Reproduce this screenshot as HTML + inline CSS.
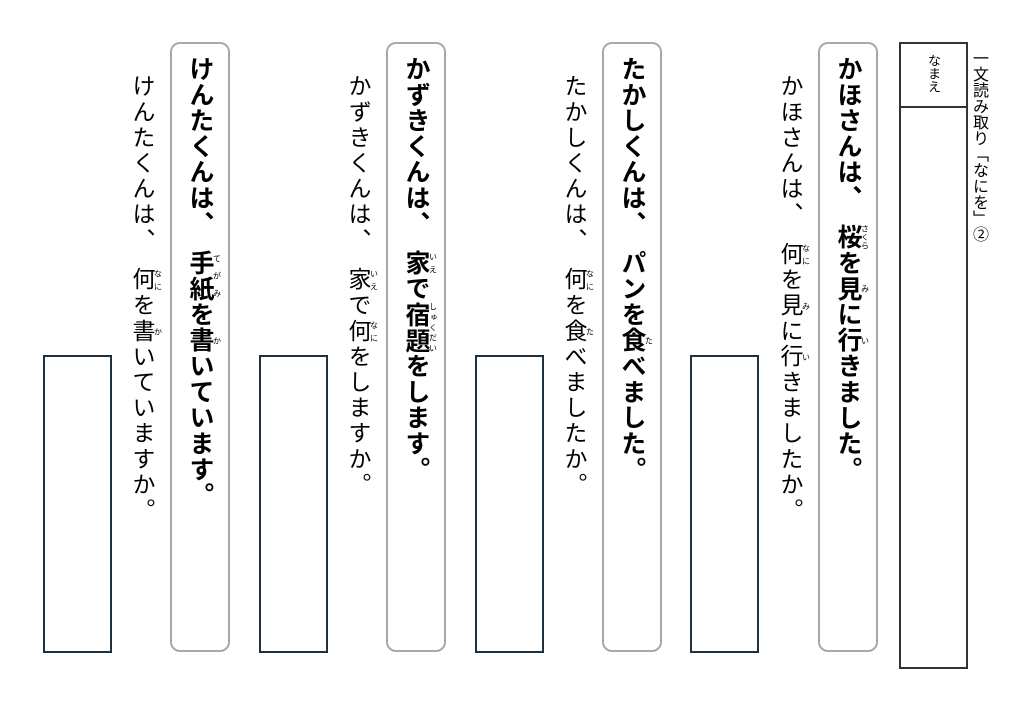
<!DOCTYPE html>
<html><head><meta charset="utf-8"><style>
body{margin:0;width:1024px;height:709px;background:#fff;position:relative;overflow:hidden;font-family:"Liberation Sans","Noto Sans CJK JP",sans-serif;}
.v{position:absolute;writing-mode:vertical-rl;white-space:nowrap;}
.bold{font-weight:bold;font-size:25px;letter-spacing:0.8px;width:60px;line-height:60px;text-align:center;}
.plain{font-size:23px;letter-spacing:2.6px;width:40px;line-height:40px;}
.box{position:absolute;top:42px;width:56px;height:606px;border:2.5px solid #a8a8a8;border-radius:10px;}
.ans{position:absolute;top:355px;width:65px;height:294px;border:2px solid #1f3040;}
rt{font-size:8px;font-weight:normal;letter-spacing:0;}
</style></head><body>
<div class="box" style="left:818px"></div>
<div class="box" style="left:602px"></div>
<div class="box" style="left:386px"></div>
<div class="box" style="left:170px"></div>

<div class="v bold" style="left:818px;top:56px">かほさんは、　<ruby>桜<rt>さくら</rt></ruby>を<ruby>見<rt>み</rt></ruby>に<ruby>行<rt>い</rt></ruby>きました。</div>
<div class="v bold" style="left:602px;top:56px">たかしくんは、　パンを<ruby>食<rt>た</rt></ruby>べました。</div>
<div class="v bold" style="left:386px;top:56px">かずきくんは、　<ruby>家<rt>いえ</rt></ruby>で<ruby>宿題<rt>しゅくだい</rt></ruby>をします。</div>
<div class="v bold" style="left:170px;top:56px">けんたくんは、　<ruby>手紙<rt>てがみ</rt></ruby>を<ruby>書<rt>か</rt></ruby>いています。</div>

<div class="v plain" style="left:770px;top:74px">かほさんは、　<ruby>何<rt>なに</rt></ruby>を<ruby>見<rt>み</rt></ruby>に<ruby>行<rt>い</rt></ruby>きましたか。</div>
<div class="v plain" style="left:554px;top:74px">たかしくんは、　<ruby>何<rt>なに</rt></ruby>を<ruby>食<rt>た</rt></ruby>べましたか。</div>
<div class="v plain" style="left:338px;top:74px">かずきくんは、　<ruby>家<rt>いえ</rt></ruby>で<ruby>何<rt>なに</rt></ruby>をしますか。</div>
<div class="v plain" style="left:122px;top:74px">けんたくんは、　<ruby>何<rt>なに</rt></ruby>を<ruby>書<rt>か</rt></ruby>いていますか。</div>

<div class="ans" style="left:690px"></div>
<div class="ans" style="left:475px"></div>
<div class="ans" style="left:259px"></div>
<div class="ans" style="left:43px"></div>

<div style="position:absolute;left:899px;top:42px;width:65px;height:623px;border:2px solid #333;"></div>
<div style="position:absolute;left:899px;top:106px;width:68px;height:2px;background:#333;"></div>
<div class="v" style="left:920px;top:54px;font-size:13px;width:26px;line-height:26px;text-align:center;">なまえ</div>
<div class="v" style="left:967px;top:50px;font-size:16px;width:22px;line-height:22px;">一文読み取り「なにを」②</div>
</body></html>
